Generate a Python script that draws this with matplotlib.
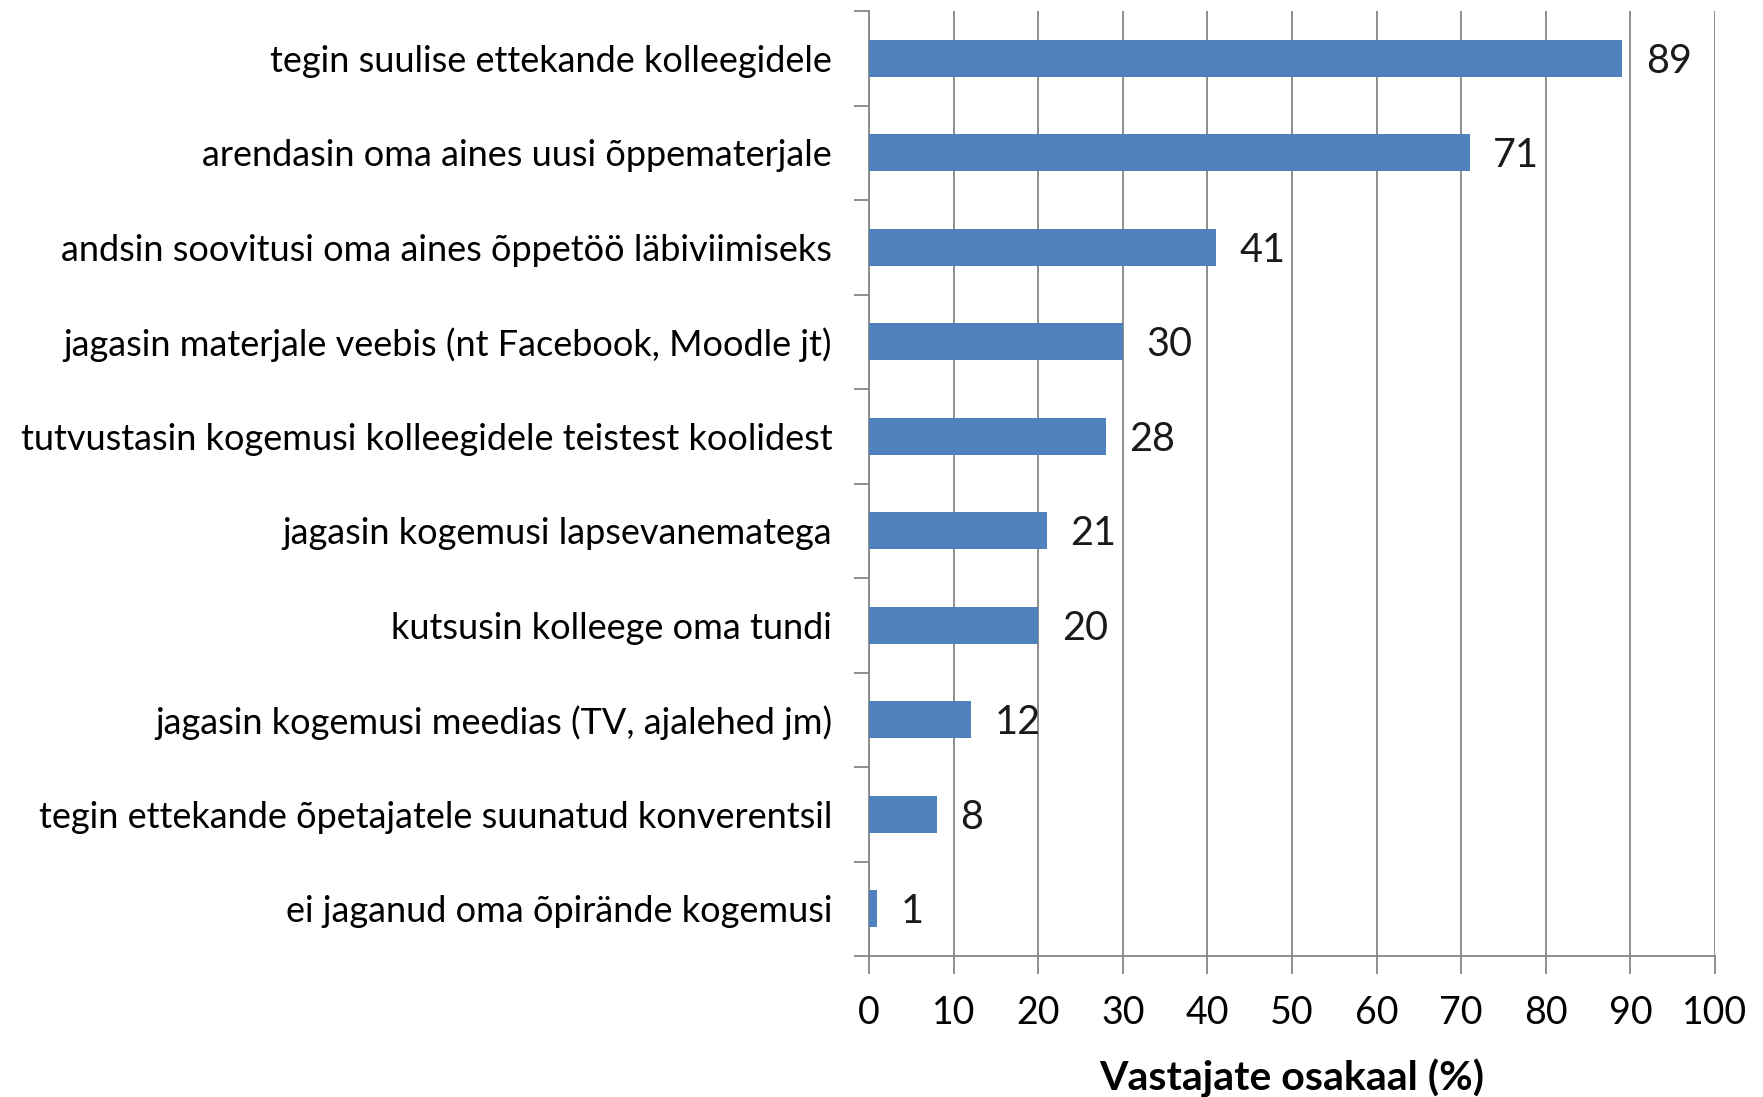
import matplotlib
matplotlib.use("Agg")
import matplotlib.pyplot as plt
import numpy as np

labels = [
    "tegin suulise ettekande kolleegidele",
    "arendasin oma aines uusi õppematerjale",
    "andsin soovitusi oma aines õppetöö läbiviimiseks",
    "jagasin materjale veebis (nt Facebook, Moodle jt)",
    "tutvustasin kogemusi kolleegidele teistest koolidest",
    "jagasin kogemusi lapsevanematega",
    "kutsusin kolleege oma tundi",
    "jagasin kogemusi meedias (TV, ajalehed jm)",
    "tegin ettekande õpetajatele suunatud konverentsil",
    "ei jaganud oma õpirände kogemusi",
]
values = [89, 71, 41, 30, 28, 21, 20, 12, 8, 1]
xticks = list(range(0, 101, 10))

plt.rcParams['font.family'] = ['Lato', 'DejaVu Sans']

fig = plt.figure(figsize=(17.63, 10.97), dpi=100)
ax = fig.add_axes([869 / 1763, 1 - 956 / 1097, (1715 - 869) / 1763, (956 - 11) / 1097])

n = len(labels)
y = np.arange(n)
ax.barh(y, values, height=0.39, color="#4F81BD", zorder=3)
ax.set_ylim(n - 0.5, -0.5)
ax.set_xlim(0, 100)

for yi, v in zip(y, values):
    ax.text(v + 2.8, yi + 0.03, str(v), va="center", ha="left", fontsize=28.5, color="#1a1a1a")

ax.set_yticks(y)
ax.set_yticklabels(labels, fontsize=26)
ax.set_yticks(np.arange(-0.5, n, 1), minor=True)
ax.tick_params(axis="y", which="major", length=0, pad=26.5)
ax.tick_params(axis="y", which="minor", length=11, color="#868686", width=1.3)

ax.set_xticks(xticks)
ax.set_xticklabels([str(t) for t in xticks], fontsize=27)
ax.tick_params(axis="x", length=13, color="#868686", width=1.3, pad=15)

ax.grid(axis="x", color="#868686", linewidth=1.3, zorder=0)
for s in ["top", "right"]:
    ax.spines[s].set_visible(False)
for s in ["left", "bottom"]:
    ax.spines[s].set_color("#868686")
    ax.spines[s].set_linewidth(1.3)

ax.set_xlabel("Vastajate osakaal (%)", fontsize=29.5, fontweight="bold", labelpad=20)

fig.savefig("out.png", dpi=100, facecolor="white")
